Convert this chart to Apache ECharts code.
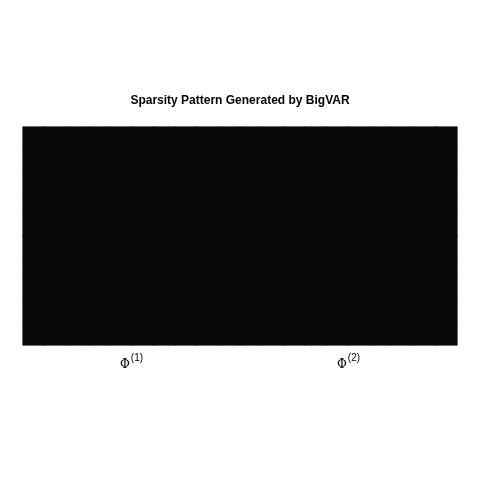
<!DOCTYPE html>
<html>
<head>
<meta charset="utf-8">
<script src="https://cdn.jsdelivr.net/npm/echarts@6/dist/echarts.min.js"></script>
<style>
  html, body { margin: 0; padding: 0; background: #fff; }
  #chart { width: 480px; height: 480px; }
</style>
</head>
<body>
<div id="chart"></div>
<script>
// sparsity pattern: 1 = nonzero coefficient, 0 = zero (every entry is active here)
const lagNames = ['1', '2'];
const phi1 = [
  [1, 1, 1, 1, 1, 1, 1, 1, 1, 1],
  [1, 1, 1, 1, 1, 1, 1, 1, 1, 1],
  [1, 1, 1, 1, 1, 1, 1, 1, 1, 1],
  [1, 1, 1, 1, 1, 1, 1, 1, 1, 1],
  [1, 1, 1, 1, 1, 1, 1, 1, 1, 1],
  [1, 1, 1, 1, 1, 1, 1, 1, 1, 1],
  [1, 1, 1, 1, 1, 1, 1, 1, 1, 1],
  [1, 1, 1, 1, 1, 1, 1, 1, 1, 1],
  [1, 1, 1, 1, 1, 1, 1, 1, 1, 1],
  [1, 1, 1, 1, 1, 1, 1, 1, 1, 1]
];
const phi2 = [
  [1, 1, 1, 1, 1, 1, 1, 1, 1, 1],
  [1, 1, 1, 1, 1, 1, 1, 1, 1, 1],
  [1, 1, 1, 1, 1, 1, 1, 1, 1, 1],
  [1, 1, 1, 1, 1, 1, 1, 1, 1, 1],
  [1, 1, 1, 1, 1, 1, 1, 1, 1, 1],
  [1, 1, 1, 1, 1, 1, 1, 1, 1, 1],
  [1, 1, 1, 1, 1, 1, 1, 1, 1, 1],
  [1, 1, 1, 1, 1, 1, 1, 1, 1, 1],
  [1, 1, 1, 1, 1, 1, 1, 1, 1, 1],
  [1, 1, 1, 1, 1, 1, 1, 1, 1, 1]
];

const k = phi1.length;
const cols = [];
for (let i = 0; i < 2 * k; i++) cols.push(String(i));
const rows = [];
for (let i = 0; i < k; i++) rows.push(String(i));

const cells = [];
[phi1, phi2].forEach((m, lag) => {
  m.forEach((row, r) => {
    row.forEach((v, c) => {
      // row 0 at the top
      cells.push([lag * k + c, k - 1 - r, v]);
    });
  });
});

const chart = echarts.init(document.getElementById('chart'));
chart.setOption({
  animation: false,
  backgroundColor: '#ffffff',
  title: {
    text: 'Sparsity Pattern Generated by BigVAR',
    left: 'center',
    top: 90,
    textStyle: {
      fontFamily: 'Liberation Sans',
      fontWeight: 'bold',
      fontSize: 12,
      color: '#000'
    }
  },
  grid: { left: 23, right: 23, top: 127, height: 218 },
  xAxis: [
    {
      type: 'category',
      data: cols,
      show: false
    },
    {
      type: 'category',
      data: lagNames,
      position: 'bottom',
      axisLine: { show: false },
      axisTick: { show: false },
      axisLabel: {
        margin: 8,
        formatter: v => '{phi|\u03A6}{sup|(' + v + ')}',
        rich: {
          phi: { fontFamily: 'DejaVu Serif', fontSize: 12, color: '#000', verticalAlign: 'bottom', padding: [6, 0, 0, 0] },
          sup: { fontFamily: 'Liberation Sans', fontSize: 10, color: '#000', verticalAlign: 'top', padding: [0, 0, 6, 1] }
        }
      }
    }
  ],
  yAxis: {
    type: 'category',
    data: rows,
    show: false
  },
  visualMap: {
    show: false,
    type: 'piecewise',
    dimension: 2,
    pieces: [
      { value: 0, color: '#ffffff' },
      { value: 1, color: '#090909' }
    ]
  },
  series: [
    {
      type: 'heatmap',
      data: cells,
      itemStyle: { borderWidth: 0.6, borderColor: '#090909' }
    }
  ]
});
</script>
</body>
</html>
